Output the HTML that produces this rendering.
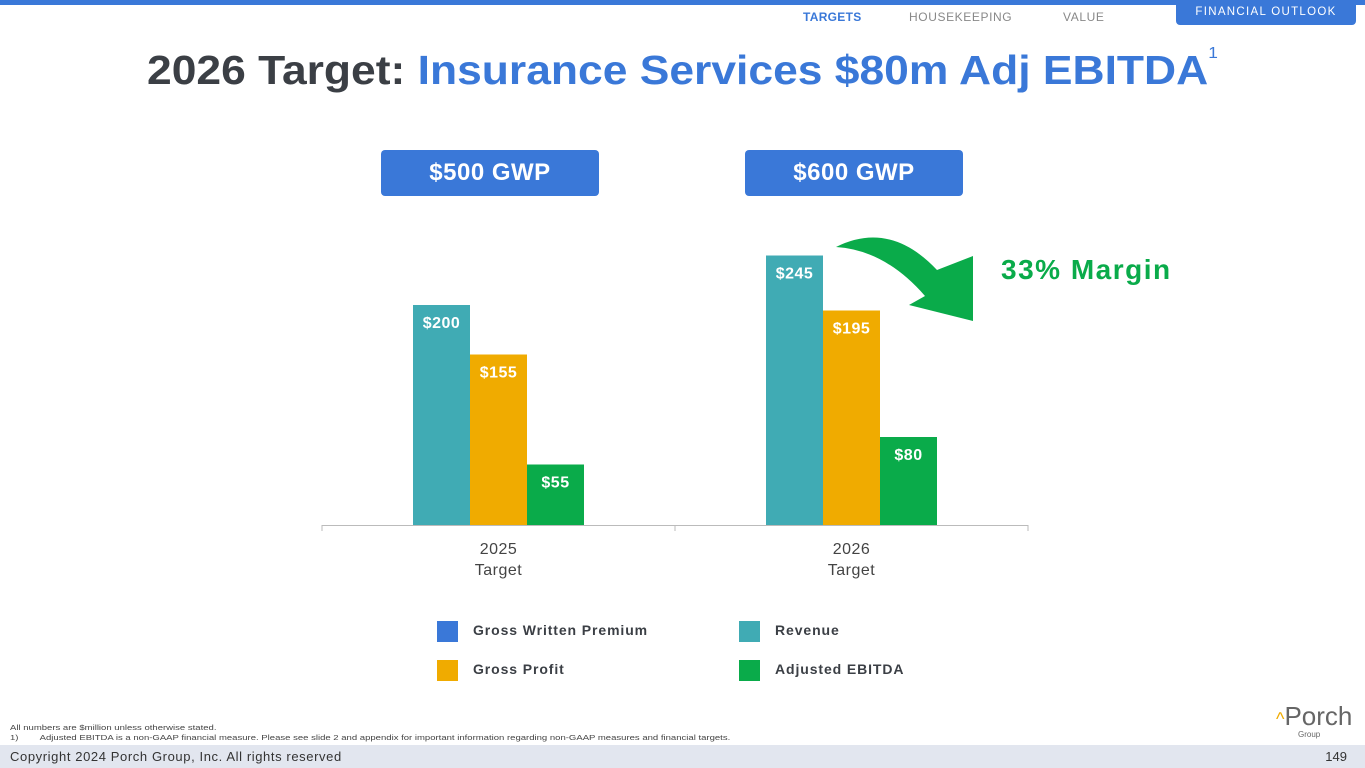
<!DOCTYPE html>
<html><head><meta charset="utf-8"><style>
body{margin:0;width:1365px;height:768px;position:relative;background:#fff;font-family:"Liberation Sans",sans-serif;overflow:hidden}
.abs{position:absolute}
</style></head><body>
<div class="abs" style="left:0;top:0;width:1365px;height:5px;background:#3a78d8"></div>
<div class="abs" style="left:803px;top:10px;font-size:12px;font-weight:bold;color:#3a78d8;letter-spacing:0.3px">TARGETS</div>
<div class="abs" style="left:909px;top:10px;font-size:12px;color:#888;letter-spacing:0.6px">HOUSEKEEPING</div>
<div class="abs" style="left:1063px;top:10px;font-size:12px;color:#888;letter-spacing:0.6px">VALUE</div>
<div class="abs" style="left:1176px;top:0;width:180px;height:25px;background:#3a78d8;border-radius:0 0 4px 4px;color:#fff;font-size:11.5px;letter-spacing:1.3px;text-align:center;line-height:24px">FINANCIAL OUTLOOK</div>
<div class="abs" style="left:147px;top:47px;font-size:41px;font-weight:bold;color:#3b3f45;white-space:nowrap;transform:scaleX(1.083);transform-origin:0 0">2026 Target: <span style="color:#3a78d8">Insurance Services $80m Adj EBITDA</span><sup style="font-size:16px;font-weight:normal;color:#3a78d8;vertical-align:top;position:relative;top:-2px">1</sup></div>
<div class="abs" style="left:381px;top:150px;width:218px;height:46px;background:#3a78d8;border-radius:4px;color:#fff;font-size:24px;font-weight:bold;text-align:center;line-height:46px;letter-spacing:0.5px">$500 GWP</div>
<div class="abs" style="left:745px;top:150px;width:218px;height:46px;background:#3a78d8;border-radius:4px;color:#fff;font-size:24px;font-weight:bold;text-align:center;line-height:46px;letter-spacing:0.5px">$600 GWP</div>
<div class="abs" style="left:1001px;top:254px;font-size:28px;font-weight:bold;color:#0aab4a;letter-spacing:1.5px">33% Margin</div>
<svg class="abs" style="left:0;top:0" width="1365" height="768" id="chart">
<path d="M836 247 Q890 220 937 270 L973 256 L973 321 L909 305 L925 296 Q885 250 836 247 Z" fill="#0aab4a"/>
</svg>
<div class="abs" style="left:437px;top:621px;font-size:14px;font-weight:bold;color:#3b3f45;letter-spacing:0.9px"><span style="display:inline-block;width:21px;height:21px;background:#3a78d8;vertical-align:middle;margin-right:15px"></span>Gross Written Premium</div>
<div class="abs" style="left:739px;top:621px;font-size:14px;font-weight:bold;color:#3b3f45;letter-spacing:0.9px"><span style="display:inline-block;width:21px;height:21px;background:#40abb4;vertical-align:middle;margin-right:15px"></span>Revenue</div>
<div class="abs" style="left:437px;top:660px;font-size:14px;font-weight:bold;color:#3b3f45;letter-spacing:0.9px"><span style="display:inline-block;width:21px;height:21px;background:#f0ab00;vertical-align:middle;margin-right:15px"></span>Gross Profit</div>
<div class="abs" style="left:739px;top:660px;font-size:14px;font-weight:bold;color:#3b3f45;letter-spacing:0.9px"><span style="display:inline-block;width:21px;height:21px;background:#0aab4a;vertical-align:middle;margin-right:15px"></span>Adjusted EBITDA</div>
<div class="abs" style="left:10px;top:723px;font-size:7.5px;color:#444;line-height:10px;white-space:nowrap;transform:scaleX(1.27);transform-origin:0 0">All numbers are $million unless otherwise stated.<br>1)&nbsp;&nbsp;&nbsp;&nbsp;&nbsp;&nbsp;&nbsp;&nbsp;Adjusted EBITDA is a non-GAAP financial measure. Please see slide 2 and appendix for important information regarding non-GAAP measures and financial targets.</div>
<div class="abs" style="left:1276px;top:701px;font-size:26px;color:#666"><span style="color:#f0ab00;font-size:18px">^</span>Porch<div style="font-size:8px;position:absolute;left:22px;top:29px">Group</div></div>
<div class="abs" style="left:0;top:745px;width:1365px;height:23px;background:#e2e6ef;font-size:13px;color:#333;line-height:23px"><span style="margin-left:10px;letter-spacing:0.6px">Copyright 2024 Porch Group, Inc. All rights reserved</span><span style="position:absolute;right:18px">149</span></div>
<script>
const categories=["2025","2026"];
const revenue=[200,245];
const grossProfit=[155,195];
const adjEbitda=[55,80];
const seriesNames=["revenue","gross-profit","adj-ebitda"];
const svg=document.getElementById('chart');
const NS='http://www.w3.org/2000/svg';
const baseY=525,pxPerUnit=1.1,axL=322,axR=1028,barW=57;
const y=v=>baseY-v*pxPerUnit;
const groupW=(axR-axL)/categories.length;
const cx=i=>axL+groupW*(i+0.5);
const colors=["#40abb4","#f0ab00","#0aab4a"];
const series=[revenue,grossProfit,adjEbitda];
function mk(t,a){const e=document.createElementNS(NS,t);for(const k in a)e.setAttribute(k,a[k]);svg.appendChild(e);return e;}
const ax=mk('line',{x1:axL,x2:axR,y1:baseY+0.5,y2:baseY+0.5,stroke:'#bbb'});


for(let i=0;i<=categories.length;i++){const t=mk('line',{x1:axL+groupW*i,x2:axL+groupW*i,y1:baseY,y2:baseY+6,stroke:'#bbb'});

}
categories.forEach((c,i)=>{
 series.forEach((s,j)=>{
  const x=cx(i)+(j-1.5)*barW;
  const r=mk('rect',{x:x,y:y(s[i]),width:barW,height:s[i]*pxPerUnit,fill:colors[j]});
  
  
  const t=mk('text',{x:x+barW/2,y:y(s[i])+23,'text-anchor':'middle',fill:'#fff','font-size':16,'font-weight':'bold','letter-spacing':0.5,'font-family':'Liberation Sans, sans-serif'});
  t.textContent='$'+s[i];
  
  
 });
 const l=mk('text',{x:cx(i),y:554,'text-anchor':'middle',fill:'#444','font-size':16,'letter-spacing':0.5,'font-family':'Liberation Sans, sans-serif'});
 l.textContent=c;
 
 
 const l2=mk('text',{x:cx(i),y:575,'text-anchor':'middle',fill:'#444','font-size':16,'letter-spacing':0.5,'font-family':'Liberation Sans, sans-serif'});
 l2.textContent='Target';
 
 
});
</script>
</body></html>
